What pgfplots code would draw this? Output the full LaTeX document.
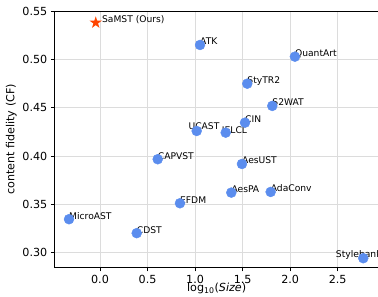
\documentclass[border=0pt]{standalone}
\usepackage{fontspec}
\setmainfont{DejaVu Sans}
\usepackage{pgfplots}
\pgfplotsset{compat=1.18}
\definecolor{ptblue}{RGB}{91,141,238}
\definecolor{staror}{HTML}{FF4500}
\definecolor{gridc}{HTML}{DCDCDC}
\pgfdeclareplotmark{fstar}{%
  \pgfpathmoveto{\pgfpointpolar{90}{\pgfplotmarksize}}%
  \pgfpathlineto{\pgfpointpolar{126}{0.382\pgfplotmarksize}}%
  \pgfpathlineto{\pgfpointpolar{162}{\pgfplotmarksize}}%
  \pgfpathlineto{\pgfpointpolar{198}{0.382\pgfplotmarksize}}%
  \pgfpathlineto{\pgfpointpolar{234}{\pgfplotmarksize}}%
  \pgfpathlineto{\pgfpointpolar{270}{0.382\pgfplotmarksize}}%
  \pgfpathlineto{\pgfpointpolar{306}{\pgfplotmarksize}}%
  \pgfpathlineto{\pgfpointpolar{342}{0.382\pgfplotmarksize}}%
  \pgfpathlineto{\pgfpointpolar{18}{\pgfplotmarksize}}%
  \pgfpathlineto{\pgfpointpolar{54}{0.382\pgfplotmarksize}}%
  \pgfpathclose
  \pgfusepathqfill
}
\begin{document}
\begin{tikzpicture}
\begin{axis}[
  scale only axis, width=324.9bp, height=257bp,
  xmin=-0.481, xmax=2.935, ymin=0.2845, ymax=0.55,
  xtick={0,0.5,1,1.5,2,2.5}, ytick={0.30,0.35,0.40,0.45,0.50,0.55},
  grid=major, major grid style={gridc, line width=0.8bp},
  axis line style={black, line width=0.8bp},
  tick align=outside, xtick pos=bottom, ytick pos=left,
  major tick length=3.5bp, tick style={black, line width=0.8bp},
  /pgf/number format/assume math mode=true,
  xticklabel style={font=\fontsize{11.2}{13}\selectfont, /pgf/number format/.cd, fixed, fixed zerofill, precision=1},
  yticklabel style={font=\fontsize{11.2}{13}\selectfont, /pgf/number format/.cd, fixed, fixed zerofill, precision=2},
  label style={font=\fontsize{11.2}{13}\selectfont},
  xlabel={log\textsubscript{10}(\textit{Size})},
  ylabel={content fidelity (CF)},
  xlabel style={yshift=5bp, inner sep=1bp},
  ylabel style={yshift=-1bp},
  clip=false,
]
\addplot[only marks, mark=*, color=ptblue, mark size=5bp] coordinates {
  (1.052,0.5149) (2.050,0.5028) (1.549,0.4749) (1.812,0.4519)
  (1.525,0.4346) (1.017,0.4260) (1.322,0.4243) (0.607,0.3968)
  (0.841,0.3513) (-0.326,0.3348) (0.386,0.3204) (1.493,0.3919)
  (1.381,0.3623) (1.795,0.3630) (2.769,0.2945)
};
\addplot[only marks, mark=fstar, color=staror, mark size=6.4bp] coordinates {(-0.045,0.5379)};
\begin{scope}[every node/.style={anchor=base west, inner sep=0pt, font=\fontsize{9.2}{11}\selectfont}]
\node at (axis cs:0.020,0.5379) {SaMST (Ours)};
\node at (axis cs:1.052,0.5149) {ATK};
\node at (axis cs:2.050,0.5028) {QuantArt};
\node at (axis cs:1.549,0.4749) {StyTR2};
\node at (axis cs:1.812,0.4519) {S2WAT};
\node at (axis cs:1.525,0.4346) {CIN};
\node at (axis cs:0.930,0.4280) {UCAST};
\node at (axis cs:1.280,0.4230) {IELCL};
\node at (axis cs:0.607,0.3968) {CAPVST};
\node at (axis cs:0.841,0.3513) {EFDM};
\node at (axis cs:-0.326,0.3348) {MicroAST};
\node at (axis cs:0.386,0.3204) {CDST};
\node at (axis cs:1.493,0.3919) {AesUST};
\node at (axis cs:1.381,0.3623) {AesPA};
\node at (axis cs:1.795,0.3630) {AdaConv};
\node at (axis cs:2.480,0.2955) {Stylebank};
\end{scope}
\coordinate (TL) at (axis cs:-0.481,0.55);
\coordinate (BR) at (axis cs:2.924,0.2845);
\end{axis}
\pgfresetboundingbox
\useasboundingbox ([shift={(-54.3bp,11bp)}]TL) rectangle ([shift={(0bp,-29bp)}]BR);
\end{tikzpicture}
\end{document}
